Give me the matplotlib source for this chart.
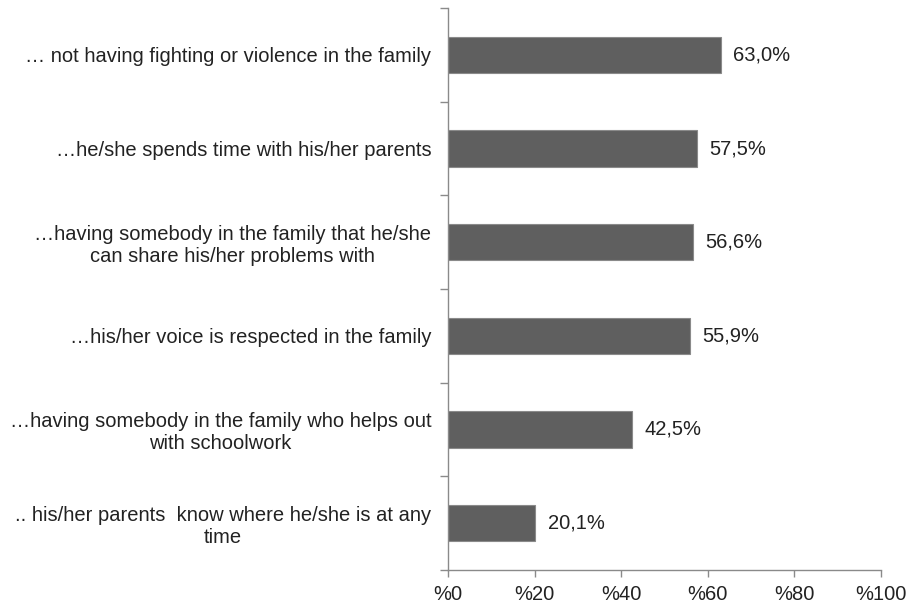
import matplotlib
matplotlib.use("Agg")
import matplotlib.pyplot as plt
import numpy as np
from matplotlib.ticker import FixedLocator

plt.rcParams['font.family'] = ['Liberation Sans', 'DejaVu Sans']

categories = [
    "… not having fighting or violence in the family",
    "…he/she spends time with his/her parents",
    "…having somebody in the family that he/she\ncan share his/her problems with",
    "…his/her voice is respected in the family",
    "…having somebody in the family who helps out\nwith schoolwork",
    ".. his/her parents  know where he/she is at any\ntime",
]
values = [63.0, 57.5, 56.6, 55.9, 42.5, 20.1]
xticks = [0, 20, 40, 60, 80, 100]
xtick_labels = ["%0", "%20", "%40", "%60", "%80", "%100"]

FS = 14.5
TXT = "#222222"
AXC = "#8a8a8a"

fig = plt.figure(figsize=(9.13, 6.07), dpi=100)
ax = fig.add_axes([0.4907, 0.0610, 0.965 - 0.4907, 0.9868 - 0.0610])

n = len(categories)
y = np.arange(n)
ax.barh(y, values, height=0.39, color="#5f5f5f", edgecolor=AXC, linewidth=0.8)

for yi, v in zip(y, values):
    ax.text(v + 2.9, yi, f"{v:.1f}".replace(".", ",") + "%", va="center", ha="left",
            fontsize=FS, color=TXT)

ax.set_ylim(n - 0.5, -0.5)
ax.set_xlim(0, 100)

ax.set_yticks(y)
ax.set_yticklabels(categories, fontsize=FS, color=TXT, multialignment="center",
                   linespacing=1.2)
ax.yaxis.set_minor_locator(FixedLocator(np.arange(-0.5, n, 1.0)))
ax.tick_params(axis="y", which="major", length=0, pad=12)
ax.tick_params(axis="y", which="minor", length=6, color=AXC, width=1)

ax.set_xticks(xticks)
ax.set_xticklabels(xtick_labels, fontsize=FS, color=TXT)
ax.tick_params(axis="x", length=5, color=AXC, width=1, pad=6)

for side in ["top", "right"]:
    ax.spines[side].set_visible(False)
for side in ["left", "bottom"]:
    ax.spines[side].set_color(AXC)
    ax.spines[side].set_linewidth(1)

fig.savefig("out.png", dpi=100)
